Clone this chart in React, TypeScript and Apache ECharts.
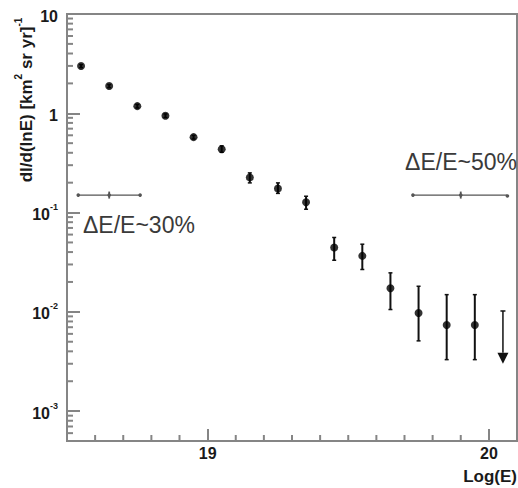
import React, { useEffect, useRef } from 'react';
import * as echarts from 'echarts';

// log10(E) bin centres and measured flux dI/d(lnE)
const energies = [18.55, 18.65, 18.75, 18.85, 18.95, 19.05, 19.15, 19.25, 19.35, 19.45, 19.55, 19.65, 19.75, 19.85, 19.95];
const flux = [2.99, 1.88, 1.18, 0.944, 0.575, 0.435, 0.226, 0.175, 0.127, 0.0445, 0.0366, 0.0173, 0.00975, 0.00738, 0.00738];
const fluxLow = [2.88, 1.81, 1.13, 0.905, 0.55, 0.405, 0.199, 0.156, 0.108, 0.0331, 0.0267, 0.01055, 0.0051, 0.0033, 0.0033];
const fluxHigh = [3.1, 1.95, 1.23, 0.985, 0.6, 0.47, 0.251, 0.199, 0.146, 0.0561, 0.048, 0.0247, 0.0181, 0.0149, 0.0149];

// upper limit in the last bin
const limitEnergy = [20.05];
const limitTop = [0.0102];
const limitValue = [0.003];

// energy resolution bars
const resCenter = [18.65, 19.9];
const resLow = [18.54, 19.73];
const resHigh = [18.76, 20.065];
const resLevel = [0.15, 0.15];
const resLabels = ['ΔE/E~30%', 'ΔE/E~50%'];

// axes
const xMin = 18.5;
const xMax = 20.1;
const xLabelTicks = [19, 20];
const xMinorTicks = [18.6, 18.7, 18.8, 18.9, 19.1, 19.2, 19.3, 19.4, 19.5, 19.6, 19.7, 19.8, 19.9];
const yMin = 5e-4;
const yMax = 10;
const yMajorTicks = [0.001, 0.01, 0.1, 1, 10];
const yMinorMultipliers = [2, 3, 4, 5, 6, 7, 8, 9];

const FONT = 'Liberation Sans, Arial, sans-serif';
const AXIS = '#858585';
const MINOR_LEN = 6;
const TICK_W = 2;

export default function App() {
  const ref = useRef<HTMLDivElement>(null);
  useEffect(() => {
    if (!ref.current) return;
    const chart = echarts.init(ref.current, undefined, { renderer: 'svg' });

    const yMinorTicks: number[] = [];
    [0.0001, 0.001, 0.01, 0.1, 1].forEach((d) => {
      yMinorMultipliers.forEach((m) => {
        const v = +(d * m).toPrecision(3);
        if (v > yMin && v < yMax) yMinorTicks.push(v);
      });
    });

    const pointData = energies.map((e, i) => [e, flux[i]]);
    const errData = energies.map((e, i) => [e, fluxLow[i], fluxHigh[i]]);
    const limitData = limitEnergy.map((e, i) => [e, limitTop[i], limitValue[i]]);
    const resData = resCenter.map((c, i) => [c, resLevel[i], resLow[i], resHigh[i]]);
    const yMinorData = yMinorTicks.map((v) => [xMin, v]);
    const xMinorData = xMinorTicks.map((v) => [v, yMin]);

    const yFormatter = (v: number) => {
      const exp = Math.round(Math.log10(v));
      if (exp >= 0) return `{b|${Math.round(Math.pow(10, exp))}}`;
      return `{b|10}{s|${exp}}`;
    };

    const tickStyle = { color: AXIS, width: TICK_W };

    const option: any = {
      animation: false,
      backgroundColor: '#ffffff',
      grid: {
        left: 67,
        right: 1,
        top: 14,
        bottom: 47,
        show: true,
        borderColor: AXIS,
        borderWidth: 2,
        backgroundColor: 'transparent',
        containLabel: false,
        outerBoundsMode: 'none',
      },
      xAxis: {
        type: 'value',
        min: xMin,
        max: xMax,
        position: 'bottom',
        axisLine: { show: true, onZero: false, lineStyle: { color: AXIS, width: 2 } },
        axisTick: { show: true, inside: true, length: 12, customValues: xLabelTicks, lineStyle: tickStyle },
        axisLabel: {
          show: true,
          customValues: xLabelTicks,
          margin: 4,
          fontFamily: FONT,
          fontWeight: 'bold',
          fontSize: 16,
          color: '#1a1a1a',
          formatter: (v: number) => String(Math.round(v)),
        },
        splitLine: { show: false },
      },
      yAxis: {
        type: 'log',
        logBase: 10,
        min: yMin,
        max: yMax,
        position: 'left',
        axisLine: { show: true, onZero: false, lineStyle: { color: AXIS, width: 2 } },
        axisTick: { show: true, inside: true, length: 13, customValues: yMajorTicks, lineStyle: tickStyle },
        axisLabel: {
          show: true,
          customValues: yMajorTicks,
          margin: 9,
          formatter: yFormatter,
          rich: {
            b: { fontFamily: FONT, fontWeight: 'bold', fontSize: 16, color: '#1a1a1a', lineHeight: 20, verticalAlign: 'bottom' },
            s: { fontFamily: FONT, fontWeight: 'bold', fontSize: 9, color: '#1a1a1a', lineHeight: 11, verticalAlign: 'top' },
          },
        },
        splitLine: { show: false },
      },
      series: [
        {
          type: 'custom',
          name: 'yMinorTicks',
          data: yMinorData,
          encode: { x: 0, y: 1 },
          silent: true,
          clip: false,
          renderItem: (params: any, api: any) => {
            const p = api.coord([api.value(0), api.value(1)]);
            return {
              type: 'line',
              shape: { x1: p[0], y1: p[1], x2: p[0] + MINOR_LEN, y2: p[1] },
              style: { stroke: AXIS, lineWidth: TICK_W },
            };
          },
          z: 2,
        },
        {
          type: 'custom',
          name: 'xMinorTicks',
          data: xMinorData,
          encode: { x: 0, y: 1 },
          silent: true,
          clip: false,
          renderItem: (params: any, api: any) => {
            const p = api.coord([api.value(0), api.value(1)]);
            return {
              type: 'line',
              shape: { x1: p[0], y1: p[1], x2: p[0], y2: p[1] - MINOR_LEN },
              style: { stroke: AXIS, lineWidth: TICK_W },
            };
          },
          z: 2,
        },
        {
          type: 'custom',
          name: 'resolution',
          data: resData,
          encode: { x: [0, 2, 3], y: 1 },
          renderItem: (params: any, api: any) => {
            const y = api.value(1);
            const c = api.coord([api.value(0), y]);
            const l = api.coord([api.value(2), y]);
            const r = api.coord([api.value(3), y]);
            const stroke = '#555';
            return {
              type: 'group',
              children: [
                { type: 'line', shape: { x1: l[0], y1: l[1], x2: r[0], y2: r[1] }, style: { stroke, lineWidth: 1.2 } },
                { type: 'circle', shape: { cx: l[0], cy: l[1], r: 1.8 }, style: { fill: stroke } },
                { type: 'circle', shape: { cx: r[0], cy: r[1], r: 1.8 }, style: { fill: stroke } },
                { type: 'line', shape: { x1: c[0], y1: c[1] - 3.5, x2: c[0], y2: c[1] + 3.5 }, style: { stroke, lineWidth: 1.8 } },
                { type: 'circle', shape: { cx: c[0], cy: c[1], r: 1.8 }, style: { fill: stroke } },
              ],
            };
          },
          z: 3,
        },
        {
          type: 'custom',
          name: 'errors',
          data: errData,
          encode: { x: 0, y: [1, 2] },
          renderItem: (params: any, api: any) => {
            const x = api.value(0);
            const lo = api.coord([x, api.value(1)]);
            const hi = api.coord([x, api.value(2)]);
            return {
              type: 'group',
              children: [
                { type: 'line', shape: { x1: lo[0], y1: lo[1], x2: hi[0], y2: hi[1] }, style: { stroke: '#111', lineWidth: 2 } },
                { type: 'line', shape: { x1: lo[0] - 2, y1: lo[1], x2: lo[0] + 2, y2: lo[1] }, style: { stroke: '#111', lineWidth: 1.5 } },
                { type: 'line', shape: { x1: hi[0] - 2, y1: hi[1], x2: hi[0] + 2, y2: hi[1] }, style: { stroke: '#111', lineWidth: 1.5 } },
              ],
            };
          },
          z: 4,
        },
        {
          type: 'custom',
          name: 'limit',
          data: limitData,
          encode: { x: 0, y: [1, 2] },
          renderItem: (params: any, api: any) => {
            const x = api.value(0);
            const top = api.coord([x, api.value(1)]);
            const tip = api.coord([x, api.value(2)]);
            const baseY = tip[1] - 11;
            return {
              type: 'group',
              children: [
                { type: 'line', shape: { x1: top[0], y1: top[1], x2: top[0], y2: baseY }, style: { stroke: '#111', lineWidth: 1.5 } },
                { type: 'line', shape: { x1: top[0] - 2.5, y1: top[1], x2: top[0] + 2.5, y2: top[1] }, style: { stroke: '#111', lineWidth: 1.5 } },
                { type: 'polygon', shape: { points: [[tip[0] - 5.5, baseY], [tip[0] + 5.5, baseY], [tip[0], tip[1]]] }, style: { fill: '#111' } },
              ],
            };
          },
          z: 4,
        },
        {
          type: 'scatter',
          name: 'flux',
          data: pointData,
          symbol: 'circle',
          symbolSize: 8,
          itemStyle: { color: '#000' },
          z: 5,
        },
      ],
      graphic: [
        {
          type: 'text',
          x: 24,
          y: 100,
          rotation: Math.PI / 2,
          style: {
            text: '{n|dI/d(lnE) [km}{s|2}{n| sr yr]}{s|-1}',
            align: 'center',
            verticalAlign: 'middle',
            rich: {
              n: { fontFamily: FONT, fontWeight: 'bold', fontSize: 17, fill: '#1a1a1a', lineHeight: 22, verticalAlign: 'bottom' },
              s: { fontFamily: FONT, fontWeight: 'bold', fontSize: 10, fill: '#1a1a1a', lineHeight: 12, verticalAlign: 'top' },
            },
          },
        },
        {
          type: 'text',
          x: 83,
          y: 225,
          style: { text: resLabels[0], fontFamily: FONT, fontSize: 23, fill: '#3a3a3a', align: 'left', verticalAlign: 'middle' },
        },
        {
          type: 'text',
          x: 517,
          y: 162,
          style: { text: resLabels[1], fontFamily: FONT, fontSize: 23, fill: '#3a3a3a', align: 'right', verticalAlign: 'middle' },
        },
        {
          type: 'text',
          x: 517,
          y: 476,
          style: { text: 'Log(E)', fontFamily: FONT, fontWeight: 'bold', fontSize: 17, fill: '#1a1a1a', align: 'right', verticalAlign: 'middle' },
        },
      ],
    };

    chart.setOption(option);
    return () => chart.dispose();
  }, []);

  return (
    <div
      ref={ref}
      style={{ position: 'fixed', left: 0, top: 0, width: 518, height: 488, background: '#fff' }}
    />
  );
}
